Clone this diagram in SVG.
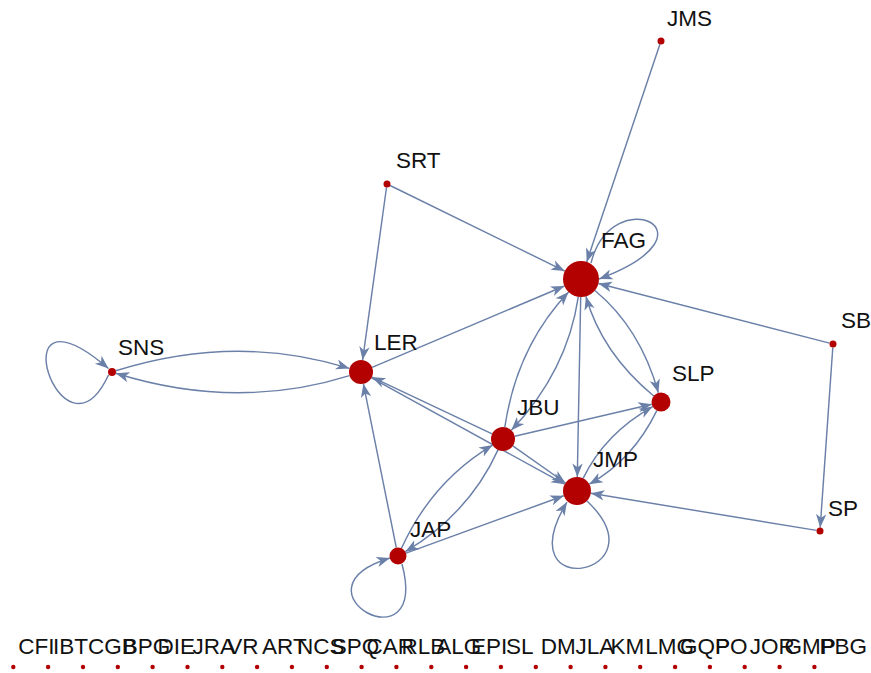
<svg xmlns="http://www.w3.org/2000/svg" width="871" height="673" viewBox="0 0 871 673">
  <defs>
    <style>
      .edge { fill: none; stroke: #6b80a8; stroke-width: 1.45; marker-end: url(#ah); }
      .v { fill: #b30000; }
      .lbl { font-family: "Liberation Sans", Arial, sans-serif; font-size: 22.5px; fill: #111; }
      .lbl-s { font-family: "Liberation Sans", Arial, sans-serif; font-size: 22.5px; fill: #111; }
    </style>
    <marker id="ah" viewBox="-15 -7 16 14" refX="0" refY="0" markerWidth="16" markerHeight="14" markerUnits="userSpaceOnUse" orient="auto">
      <path d="M0,0 L-13.5,-5.2 L-9.8,0 L-13.5,5.2 Z" fill="#6b80a8"/>
    </marker>
  </defs>
  <rect width="871" height="673" fill="#ffffff"/>

  <!-- connectors -->
  <g id="edges">
    <path class="edge" d="M659.9,44.3 L586.7,261.9"/>
    <path class="edge" d="M390.1,185.5 L564.8,271.1"/>
    <path class="edge" d="M386.5,187.5 L362.6,360.1"/>
    <path class="edge" d="M372.1,367.3 L564.4,286.0"/>
    <path class="edge" d="M829.6,343.1 L598.4,283.5"/>
    <path class="edge" d="M832.8,347.5 L820.2,527.5"/>
    <path class="edge" d="M396.3,547.7 L363.4,383.8"/>
    <path class="edge" d="M492.1,433.9 L371.9,377.1"/>
    <path class="edge" d="M371.5,377.8 L564.7,484.2"/>
    <path class="edge" d="M580.7,297 L577.3,477"/>
    <path class="edge" d="M514.7,436.3 L651.8,404.2"/>
    <path class="edge" d="M512.8,445.9 L565.5,483"/>
    <path class="edge" d="M406,553.1 L563.8,495.8"/>
    <path class="edge" d="M816.5,530.4 L590.8,493.3"/>
    <!-- two-way pairs -->
    <path class="edge" d="M115.8,370.8 Q236.5,333 349.5,368.4"/>
    <path class="edge" d="M349.5,375.6 Q236.5,411 115.8,373.2"/>
    <path class="edge" d="M504.8,427.1 Q516.8,346.7 568.6,292.1"/>
    <path class="edge" d="M578.3,296.8 Q567.2,371.3 511.3,430.3"/>
    <path class="edge" d="M401.5,548.3 Q432.1,481 492.7,445.1"/>
    <path class="edge" d="M498,449.9 Q468.9,514 405.3,551.7"/>
    <path class="edge" d="M594.9,290.5 Q640.3,328 658.4,392.8"/>
    <path class="edge" d="M653.7,396 Q601.7,353 585.9,296.3"/>
    <path class="edge" d="M656.8,410.6 Q633,459.7 589.2,484.2"/>
    <path class="edge" d="M583.1,478.4 Q605,433.3 652.7,406.6"/>
    <!-- self loops -->
    <path class="edge" d="M591,263 C612,180 725,232 599,279"/>
    <path class="edge" d="M108.5,375 C62,475 -5,272 108.5,368.5"/>
    <path class="edge" d="M402,564 C430,670 285,590 390,558"/>
    <path class="edge" d="M587,501 C665,575 505,605 567,502"/>
  </g>

  <!-- connected vertices -->
  <g id="node-JMS"><circle class="v" cx="661" cy="41" r="3.5"/><text class="lbl" x="667" y="26">JMS</text></g>
  <g id="node-SRT"><circle class="v" cx="387" cy="184" r="3.5"/><text class="lbl" x="396" y="168">SRT</text></g>
  <g id="node-FAG"><circle class="v" cx="581" cy="279" r="18"/><text class="lbl" x="601" y="248">FAG</text></g>
  <g id="node-SB"><circle class="v" cx="833" cy="344" r="3.5"/><text class="lbl" x="841" y="328">SB</text></g>
  <g id="node-SNS"><circle class="v" cx="112" cy="372" r="4"/><text class="lbl" x="118" y="355">SNS</text></g>
  <g id="node-LER"><circle class="v" cx="361" cy="372" r="12"/><text class="lbl" x="374" y="350">LER</text></g>
  <g id="node-SLP"><circle class="v" cx="661" cy="402" r="9.5"/><text class="lbl" x="672" y="381">SLP</text></g>
  <g id="node-JBU"><circle class="v" cx="503" cy="439" r="12"/><text class="lbl" x="517" y="415">JBU</text></g>
  <g id="node-JMP"><circle class="v" cx="577" cy="491" r="14"/><text class="lbl" x="593" y="467">JMP</text></g>
  <g id="node-SP"><circle class="v" cx="820" cy="531" r="3.5"/><text class="lbl" x="828" y="516">SP</text></g>
  <g id="node-JAP"><circle class="v" cx="398" cy="556" r="8.5"/><text class="lbl" x="410" y="537">JAP</text></g>

  <!-- isolated vertices, bottom row -->
  <g id="node-CFI"><circle class="v" cx="13.3" cy="667" r="2.2"/><text class="lbl-s" x="18.3" y="654">CFI</text></g>
  <g id="node-IBT"><circle class="v" cx="48.1" cy="667" r="2.2"/><text class="lbl-s" x="53.1" y="654">IBT</text></g>
  <g id="node-CGB"><circle class="v" cx="83" cy="667" r="2.2"/><text class="lbl-s" x="88" y="654">CGB</text></g>
  <g id="node-BPG"><circle class="v" cx="117.8" cy="667" r="2.2"/><text class="lbl-s" x="122.8" y="654">BPG</text></g>
  <g id="node-DIE"><circle class="v" cx="152.6" cy="667" r="2.2"/><text class="lbl-s" x="157.6" y="654">DIE</text></g>
  <g id="node-JRA"><circle class="v" cx="187.5" cy="667" r="2.2"/><text class="lbl-s" x="192.5" y="654">JRA</text></g>
  <g id="node-VR"><circle class="v" cx="222.3" cy="667" r="2.2"/><text class="lbl-s" x="227.3" y="654">VR</text></g>
  <g id="node-ART"><circle class="v" cx="257.1" cy="667" r="2.2"/><text class="lbl-s" x="262.1" y="654">ART</text></g>
  <g id="node-NCS"><circle class="v" cx="291.9" cy="667" r="2.2"/><text class="lbl-s" x="296.9" y="654">NCS</text></g>
  <g id="node-SPQ"><circle class="v" cx="326.8" cy="667" r="2.2"/><text class="lbl-s" x="331.8" y="654">SPQ</text></g>
  <g id="node-CAR"><circle class="v" cx="361.6" cy="667" r="2.2"/><text class="lbl-s" x="366.6" y="654">CAR</text></g>
  <g id="node-RLB"><circle class="v" cx="396.4" cy="667" r="2.2"/><text class="lbl-s" x="401.4" y="654">RLB</text></g>
  <g id="node-ALG"><circle class="v" cx="431.3" cy="667" r="2.2"/><text class="lbl-s" x="436.3" y="654">ALG</text></g>
  <g id="node-EPI"><circle class="v" cx="466.1" cy="667" r="2.2"/><text class="lbl-s" x="471.1" y="654">EPI</text></g>
  <g id="node-SL"><circle class="v" cx="500.9" cy="667" r="2.2"/><text class="lbl-s" x="505.9" y="654">SL</text></g>
  <g id="node-DM"><circle class="v" cx="535.8" cy="667" r="2.2"/><text class="lbl-s" x="540.8" y="654">DM</text></g>
  <g id="node-JLA"><circle class="v" cx="570.6" cy="667" r="2.2"/><text class="lbl-s" x="575.6" y="654">JLA</text></g>
  <g id="node-KM"><circle class="v" cx="605.4" cy="667" r="2.2"/><text class="lbl-s" x="610.4" y="654">KM</text></g>
  <g id="node-LMG"><circle class="v" cx="640.2" cy="667" r="2.2"/><text class="lbl-s" x="645.2" y="654">LMG</text></g>
  <g id="node-GQP"><circle class="v" cx="675.1" cy="667" r="2.2"/><text class="lbl-s" x="680.1" y="654">GQP</text></g>
  <g id="node-PO"><circle class="v" cx="709.9" cy="667" r="2.2"/><text class="lbl-s" x="714.9" y="654">PO</text></g>
  <g id="node-JOR"><circle class="v" cx="744.7" cy="667" r="2.2"/><text class="lbl-s" x="749.7" y="654">JOR</text></g>
  <g id="node-GMP"><circle class="v" cx="779.6" cy="667" r="2.2"/><text class="lbl-s" x="784.6" y="654">GMP</text></g>
  <g id="node-PBG"><circle class="v" cx="814.4" cy="667" r="2.2"/><text class="lbl-s" x="819.4" y="654">PBG</text></g>
</svg>
